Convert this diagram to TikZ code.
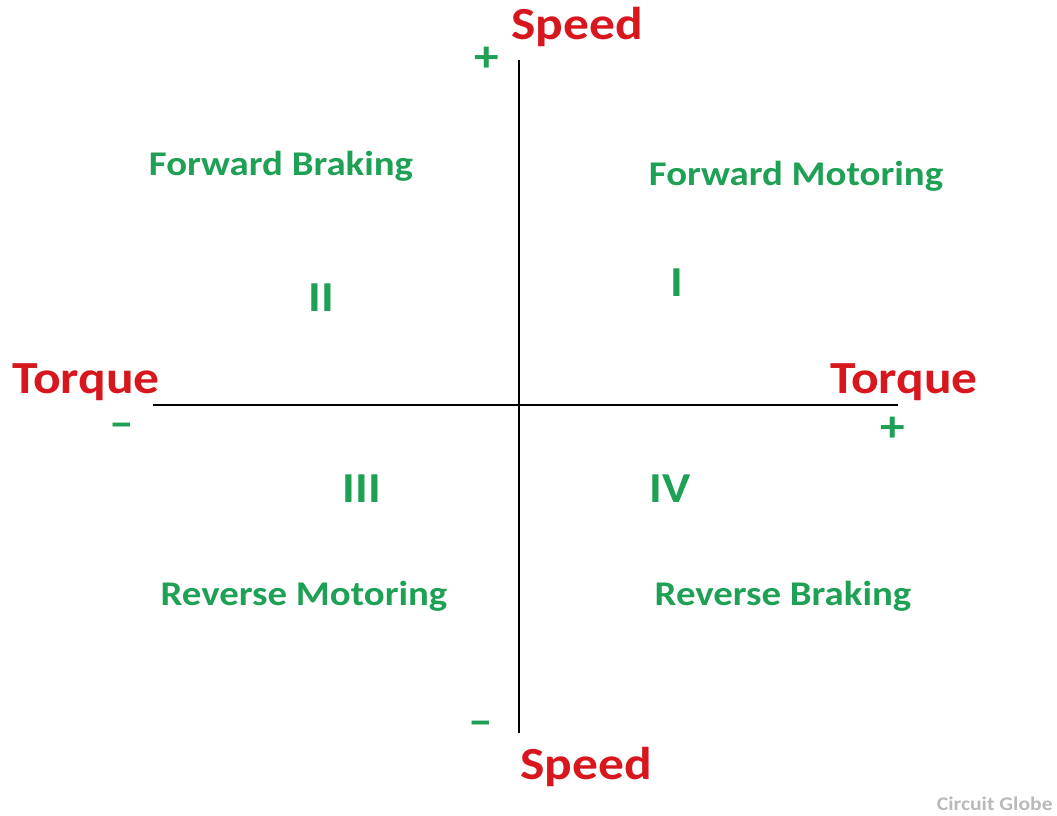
\documentclass[tikz,border=0pt]{standalone}
\usepackage{fontspec}
\setmainfont{Carlito}
\newfontfamily\labelfont[FakeStretch=1.12,BoldFont=* Bold]{Carlito}
\definecolor{axisred}{RGB}{215,22,30}
\definecolor{quadgreen}{RGB}{30,160,85}
\definecolor{markgray}{RGB}{185,185,185}
\tikzset{
  axisline/.style={line width=1.9pt, black},
  axislabel/.style={anchor=base, inner sep=0pt, text=axisred, font=\labelfont\bfseries\fontsize{34.5}{40}\selectfont},
  signmark/.style={anchor=center, inner sep=0pt, text=quadgreen, font=\labelfont\bfseries\fontsize{33}{38}\selectfont},
  modelabel/.style={anchor=base, inner sep=0pt, text=quadgreen, font=\labelfont\bfseries\fontsize{26}{30}\selectfont},
  quadnum/.style={anchor=base, inner sep=0pt, text=quadgreen, font=\labelfont\bfseries\fontsize{32}{36}\selectfont},
}
\begin{document}
\begin{tikzpicture}[x=0.75pt,y=-0.75pt]
\useasboundingbox (0,0) rectangle (1057,816);
% axes
\coordinate (ytop) at (519,60);
\coordinate (ybot) at (519,733);
\coordinate (xleft) at (153,405);
\coordinate (xright) at (898,405);
\draw[axisline] (ytop) -- (ybot);
\draw[axisline] (xleft) -- (xright);
% axis names
\node[axislabel] (speedtop) at (577,40) {Speed};
\node[axislabel] (speedbot) at (586,779) {Speed};
\node[axislabel] (torqueleft) at (86,394) {Torque};
\node[axislabel] (torqueright) at (904,394) {Torque};
% signs
\node[signmark] (plustop) at (487,59) {+};
\node[signmark] (minusbot) at (481,728) {–};
\node[signmark] (minusleft) at (122,430) {–};
\node[signmark] (plusright) at (893,429) {+};
% operating modes
\node[modelabel] (fb) at (281,176) {Forward Braking};
\node[modelabel] (fm) at (796,186) {Forward Motoring};
\node[modelabel] (rm) at (304,605) {Reverse Motoring};
\node[modelabel] (rb) at (783,605) {Reverse Braking};
% quadrant numbers
\node[quadnum] (q2) at (321,312) {II};
\node[quadnum] (q1) at (677,297) {I};
\node[quadnum] (q3) at (362,503) {III};
\node[quadnum] (q4) at (670,503) {IV};
% credit
\node[anchor=base east, inner sep=0pt, text=markgray, font=\labelfont\bfseries\fontsize{14.5}{17}\selectfont] (credit) at (1053,810) {Circuit Globe};
\end{tikzpicture}
\end{document}
